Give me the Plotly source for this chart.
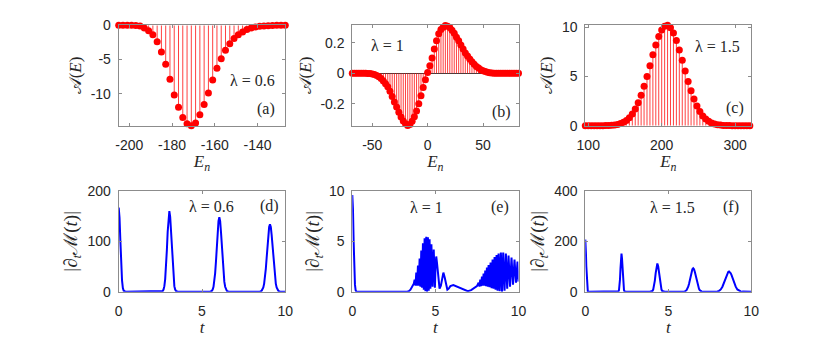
import plotly.graph_objects as go
from plotly.subplots import make_subplots

# ---- top row: stem data A(E) vs E_n ----
E_a = [-205, -203, -201, -199, -197, -195, -193, -191, -189, -187,
       -185, -183, -181, -179, -177, -175, -173, -171, -169, -167,
       -165, -163, -161, -159, -157, -155, -153, -151, -149, -147,
       -145, -143, -141, -139, -137, -135, -133, -131, -129, -127]
A_a = [0, 0, 0, -0.01, -0.03, -0.1, -0.4, -0.8, -1.4, -2.4,
       -3.9, -5.7, -7.9, -10.2, -12.0, -13.5, -14.4, -14.7, -14.3, -13.1,
       -11.6, -9.9, -8.0, -6.3, -4.9, -3.65, -2.7, -1.95, -1.4, -0.97,
       -0.62, -0.4, -0.25, -0.15, -0.09, -0.05, -0.03, -0.01, 0, 0]

E_b = [-68, -66, -64, -62, -60, -58, -56, -54, -52, -50,
       -48, -46, -44, -42, -40, -38, -36, -34, -32, -30,
       -28, -26, -24, -22, -20, -18, -16, -14, -12, -10,
       -8, -6, -4, -2, 0, 2, 4, 6, 8, 10,
       12, 14, 16, 18, 20, 22, 24, 26, 28, 30,
       32, 34, 36, 38, 40, 42, 44, 46, 48, 50,
       52, 54, 56, 58, 60, 62, 64, 66, 68, 70,
       72, 74, 76, 78, 80, 82]
A_b = [0, 0, 0, 0, 0, 0, 0, -0.001, -0.002, -0.004,
       -0.008, -0.014, -0.023, -0.035, -0.05, -0.068, -0.088, -0.118, -0.152, -0.188,
       -0.222, -0.256, -0.287, -0.313, -0.332, -0.342, -0.336, -0.315, -0.285, -0.247,
       -0.2, -0.148, -0.093, -0.042, 0.005, 0.05, 0.101, 0.16, 0.213, 0.26,
       0.287, 0.303, 0.314, 0.309, 0.3, 0.283, 0.262, 0.237, 0.213, 0.185,
       0.16, 0.134, 0.113, 0.094, 0.076, 0.06, 0.045, 0.034, 0.024, 0.017,
       0.011, 0.007, 0.004, 0.002, 0.001, 0, 0, 0, 0, 0,
       0, 0, 0, 0, 0, 0]

E_c = [96, 100, 104, 108, 112, 116, 120, 124, 128, 132,
       136, 140, 144, 148, 152, 156, 160, 164, 168, 172,
       176, 180, 184, 188, 192, 196, 200, 204, 208, 212,
       216, 220, 224, 228, 232, 236, 240, 244, 248, 252,
       256, 260, 264, 268, 272, 276, 280, 284, 288, 292,
       296, 300, 304, 308, 312, 316, 320]
A_c = [0, 0, 0, 0, 0, 0, 0, 0.01, 0.02, 0.04,
       0.08, 0.13, 0.22, 0.35, 0.54, 0.82, 1.2, 1.69, 2.33, 3.1,
       4.0, 5.0, 6.1, 7.2, 8.2, 9.07, 9.73, 10.11, 10.2, 9.96,
       9.43, 8.66, 7.7, 6.65, 5.56, 4.5, 3.54, 2.7, 2.0, 1.43,
       0.99, 0.67, 0.44, 0.28, 0.17, 0.1, 0.06, 0.03, 0.015, 0.01,
       0, 0, 0, 0, 0, 0, 0]

# ---- bottom row: |d_t M(t)| ----
t_d = [0, 0.05, 0.1, 0.15, 0.2, 0.25, 0.3, 0.4,
       2.55, 2.64, 2.69, 2.74, 2.79, 2.84, 2.89, 2.94, 2.99, 3.04,
       3.09, 3.14, 3.19, 3.24, 3.29, 3.34, 3.39, 3.44, 3.54,
       5.49, 5.59, 5.64, 5.69, 5.74, 5.79, 5.84, 5.89, 5.94, 5.99, 6.04,
       6.09, 6.14, 6.19, 6.24, 6.29, 6.34, 6.39, 6.44, 6.49, 6.59,
       8.48, 8.58, 8.63, 8.68, 8.73, 8.78, 8.83, 8.88, 8.93, 8.98, 9.03, 9.08,
       9.13, 9.18, 9.23, 9.28, 9.33, 9.38, 9.43, 9.48, 9.53, 9.58, 9.68, 10]
M_d = [167, 147, 101, 54, 22.6, 7.3, 1.9, 0,
       0, 1.4, 4.3, 11, 25, 49, 82, 119, 148.6, 160,
       148.6, 119, 82, 49, 25, 11, 4.3, 1.4, 0,
       0, 1.6, 4.2, 9.8, 20, 36.9, 60.8, 89.8, 118.4, 140, 148,
       140, 118.4, 89.8, 60.8, 36.9, 20, 9.8, 4.2, 1.6, 0,
       0, 1.8, 4.0, 8.4, 16.1, 28.3, 45.4, 67, 90.9, 112.7, 128.4, 134,
       128.4, 112.7, 90.9, 67, 45.4, 28.3, 16.1, 8.4, 4.0, 1.8, 0, 0]

t_e = [0, 0.04, 0.08, 0.12, 0.16, 0.2, 0.25, 3.3, 3.4, 3.5, 3.6, 3.7,
       3.75, 3.8, 3.85, 3.9, 3.95, 4.0, 4.05, 4.1, 4.15, 4.2, 4.25, 4.3,
       4.35, 4.4, 4.45, 4.5, 4.55, 4.6, 4.65, 4.7, 4.76, 4.83, 4.9, 4.97,
       5.01, 5.05, 5.1, 5.17, 5.25, 5.33, 5.4, 5.48, 5.56, 5.64, 5.72,
       5.8, 5.9, 6.08, 6.3, 6.5, 6.7, 6.95, 7.15, 7.35, 7.5,
       7.6, 7.65, 7.7, 7.75, 7.8, 7.85, 7.9, 7.95, 8.0, 8.05, 8.1, 8.15, 8.2,
       8.26, 8.32, 8.38, 8.44, 8.5, 8.56, 8.62, 8.68, 8.74, 8.8,
       8.87, 8.94, 9.01, 9.08, 9.16, 9.24, 9.32, 9.4,
       9.49, 9.58, 9.67, 9.76, 9.85, 9.94, 10.0]
M_e = [9.6, 8.2, 5.0, 2.2, 0.7, 0.15, 0, 0, 0.05, 0.2, 0.45, 0.8,
       1.2, 0.6, 1.9, 0.6, 2.6, 0.6, 3.3, 0.5, 4.1, 0.4, 4.8, 0.2,
       5.3, 0.05, 5.45, 0.0, 5.4, 0.1, 5.2, 0.3, 4.7, 0.5, 4.2, 0.4,
       2.6, 3.5, 2.8, 1.2, 0.3, 0.6, 1.4, 1.9, 1.4, 0.6, 0.2,
       0.3, 0.55, 0.65, 0.5, 0.35, 0.15, 0.05, 0.15, 0.35, 0.55,
       0.9, 0.5, 1.2, 0.55, 1.5, 0.6, 1.8, 0.6, 2.1, 0.55, 2.4, 0.5, 2.65,
       0.45, 2.9, 0.35, 3.2, 0.3, 3.45, 0.2, 3.65, 0.1, 3.8,
       0.05, 3.9, 0.0, 3.9, 0.1, 3.8, 0.3, 3.6,
       0.5, 3.4, 0.7, 3.2, 0.9, 3.0, 1.0]

t_f = [0, 0.02, 0.04, 0.06, 0.08, 0.1, 0.12, 0.15, 0.2,
       1.93, 2.0, 2.03, 2.06, 2.09, 2.12, 2.15, 2.18, 2.21, 2.24, 2.27, 2.3, 2.33, 2.36, 2.43,
       3.89, 3.99, 4.04, 4.09, 4.14, 4.19, 4.24, 4.29, 4.34,
       4.39, 4.44, 4.49, 4.54, 4.59, 4.64, 4.69, 4.79,
       5.8, 5.9, 6.0, 6.1, 6.15, 6.2, 6.25, 6.3, 6.35, 6.4, 6.45, 6.5,
       6.55, 6.6, 6.65, 6.7, 6.75, 6.8, 6.85, 6.9, 7.0, 7.1, 7.2,
       7.76, 7.86, 7.96, 8.06, 8.16, 8.26, 8.31, 8.36, 8.41, 8.46, 8.51, 8.56, 8.61, 8.66,
       8.71, 8.76, 8.81, 8.86, 8.91, 8.96, 9.01, 9.06, 9.16, 9.26, 9.36, 9.46, 9.56, 10]
M_f = [207, 191, 150, 101, 57.5, 28, 11.6, 2.3, 0,
       0, 1.7, 6.6, 20.4, 49, 91.6, 133, 151, 133, 91.6, 49, 20.4, 6.6, 1.7, 0,
       0, 0.7, 2.7, 8.5, 21.4, 44.2, 74, 101, 112,
       101, 74, 44.2, 21.4, 8.5, 2.7, 0.7, 0,
       0, 0.2, 1.2, 5.9, 11.2, 19.6, 31.5, 46.5, 63.1, 78.2, 89.1, 93,
       89.1, 78.2, 63.1, 46.5, 31.5, 19.6, 11.2, 5.9, 1.2, 0.2, 0,
       0.1, 0.3, 1.1, 3.5, 9.1, 19.9, 27.6, 36.6, 46.5, 56.6, 65.8, 73.4, 78.3, 80,
       78.3, 73.4, 65.8, 56.6, 46.5, 36.6, 27.6, 19.9, 9.1, 3.5, 1.1, 0.3, 0.1, 0]

# tick labels
xt_a = [-200, -180, -160, -140]
yt_a = [0, -5, -10]
xt_b = [-50, 0, 50]
yt_b = [-0.2, 0, 0.2]
xt_c = [100, 200, 300]
yt_c = [0, 5, 10]
xt_t = [0, 5, 10]
yt_d = [0, 100, 200]
yt_e = [0, 5, 10]
yt_f = [0, 200, 400]

lam_text = ["λ = 0.6", "λ = 1", "λ = 1.5", "λ = 0.6", "λ = 1", "λ = 1.5"]
tag_text = ["(a)", "(b)", "(c)", "(d)", "(e)", "(f)"]

RED = "#ff0000"
BLUE = "#0000ff"
AXC = "#8c8c8c"
TXT = "#262626"
SERIF = "Liberation Serif, Times New Roman, serif"
SANS = "Liberation Sans, Arial, sans-serif"

# the page body keeps its default 8px margin, so the figure is drawn
# 8px in from the window corner; work in window pixels and convert
OFF = 8
W, H = 830 - OFF, 349 - OFF


def px_x(p):
    return (p - OFF) / W


def px_y(p):
    return 1 - (p - OFF) / H


def stems(x, y):
    xs, ys = [], []
    for xi, yi in zip(x, y):
        xs += [xi, xi, None]
        ys += [0, yi, None]
    return xs, ys


def lab(v):
    # plain hyphen minus, like the original
    return "%g" % v


fig = make_subplots(rows=2, cols=3)

for col, (E, A) in enumerate([(E_a, A_a), (E_b, A_b), (E_c, A_c)], start=1):
    sx, sy = stems(E, A)
    fig.add_trace(go.Scatter(x=sx, y=sy, mode="lines",
                             line=dict(color="rgba(255,0,0,0.75)", width=1),
                             hoverinfo="skip", cliponaxis=False), row=1, col=col)
    fig.add_trace(go.Scatter(x=E, y=A, mode="markers",
                             marker=dict(color=RED, size=7, line=dict(width=0)),
                             cliponaxis=False), row=1, col=col)

for col, (t, m) in enumerate([(t_d, M_d), (t_e, M_e), (t_f, M_f)], start=1):
    fig.add_trace(go.Scatter(x=t, y=m, mode="lines",
                             line=dict(color=BLUE, width=2)), row=2, col=col)

# plot boxes in window pixels (left, right) / (top, bottom)
xbox = [(118.7, 285.3), (352.3, 518.5), (585.3, 751.3)]
ybox = [(25.3, 125.7), (191.0, 291.7)]

xranges = [[-205, -127], [-68, 82], [96, 322], [0, 10], [0, 10], [0, 10]]
yranges = [[-14.7, 0], [-0.344, 0.315], [0, 10.2], [0, 200], [0, 10], [0, 400]]
xticks = [xt_a, xt_b, xt_c, xt_t, xt_t, xt_t]
yticks = [yt_a, yt_b, yt_c, yt_d, yt_e, yt_f]

axis_common = dict(showline=True, linecolor=AXC, linewidth=1, mirror="ticks",
                   ticks="inside", ticklen=3, tickcolor=AXC, showgrid=False,
                   automargin=False,
                   tickfont=dict(family=SANS, size=14, color=TXT))

ytitle_top = "𝒜(<i>E</i>)"
ytitle_bot = "|∂<sub><i>t</i></sub>ℳ(<i>t</i>)|"
xtitle_top = "<i>E</i><sub><i>n</i></sub>"
xtitle_bot = "<i>t</i>"

for i in range(6):
    r, c = divmod(i, 3)
    sfx = "" if i == 0 else str(i + 1)
    fig.layout["xaxis" + sfx].update(
        domain=[px_x(xbox[c][0]), px_x(xbox[c][1])],
        range=xranges[i], tickvals=xticks[i],
        ticktext=[lab(v) for v in xticks[i]], zeroline=False,
        title=dict(text=xtitle_top if r == 0 else xtitle_bot,
                   font=dict(family=SERIF, size=17, color=TXT), standoff=2),
        ticklabelstandoff=6, **axis_common)
    fig.layout["yaxis" + sfx].update(
        domain=[px_y(ybox[r][1]), px_y(ybox[r][0])],
        range=yranges[i], tickvals=yticks[i],
        ticktext=[lab(v) for v in yticks[i]],
        zeroline=(r == 0), zerolinecolor="#404040", zerolinewidth=1,
        title=dict(text=ytitle_top if r == 0 else ytitle_bot,
                   font=dict(family=SERIF, size=17 if r == 0 else 19, color=TXT),
                   standoff=4),
        ticklabelstandoff=4, **axis_common)

# text labels inside panels (window pixel centres)
lam_pos = [(252, 80), (387, 45), (717, 46), (211, 206), (426, 207), (672, 207)]
tag_pos = [(266, 109), (501, 112), (735, 108), (269, 206), (500, 207), (731, 207)]
for txt, (px, py) in zip(lam_text + tag_text, lam_pos + tag_pos):
    fig.add_annotation(x=px_x(px), y=px_y(py), xref="paper", yref="paper",
                       text=txt, showarrow=False, xanchor="center", yanchor="middle",
                       font=dict(family=SERIF, size=16, color=TXT))

fig.update_layout(width=W, height=H, autosize=False, showlegend=False,
                  template="none",
                  margin=dict(l=0, r=0, t=0, b=0),
                  paper_bgcolor="white", plot_bgcolor="white")

fig.write_html("out.html")
